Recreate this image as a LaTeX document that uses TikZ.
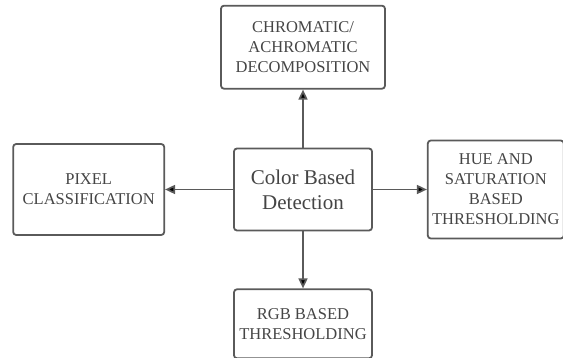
\documentclass[tikz,border=0pt]{standalone}
\usepackage{fontspec}
\setmainfont{Liberation Serif}
\usetikzlibrary{arrows.meta,positioning}

\definecolor{boxgray}{HTML}{5A5A5A}
\definecolor{textgray}{HTML}{454545}

\begin{document}
\begin{tikzpicture}[x=1pt,y=-1pt,->,>={Triangle[length=10pt,width=9pt]},thick,
    box/.style={draw=boxgray,line width=1.8pt,rounded corners=3pt,fill=white,
        align=center,text=textgray,inner sep=2pt,
        font=\fontsize{16.5}{20}\selectfont},
    main node/.style={box,font=\fontsize{21}{25}\selectfont},
    link/.style={draw=boxgray,line width=1.7pt}]

    \useasboundingbox (0,0) rectangle (563,358);

    \node[main node,minimum width=138pt,minimum height=82pt] (color) at (303,189.5) {Color Based\\Detection};
    \node[box,minimum width=164pt,minimum height=83pt] (chroma) [above=58pt of color] {CHROMATIC/\\ACHROMATIC\\DECOMPOSITION};
    \node[box,minimum width=151pt,minimum height=91pt] (pixel) [left=68pt of color] {PIXEL\\CLASSIFICATION};
    \node[box,minimum width=136pt,minimum height=98pt] (hue) [right=54pt of color] {HUE AND\\SATURATION\\BASED\\THRESHOLDING};
    \node[box,minimum width=138pt,minimum height=69pt] (rgb) [below=57pt of color] {RGB BASED\\THRESHOLDING};

    \path[link]
        (color) edge (chroma)
        (color) edge (pixel)
        (color) edge (hue)
        (color) edge (rgb)
    ;
\end{tikzpicture}
\end{document}
